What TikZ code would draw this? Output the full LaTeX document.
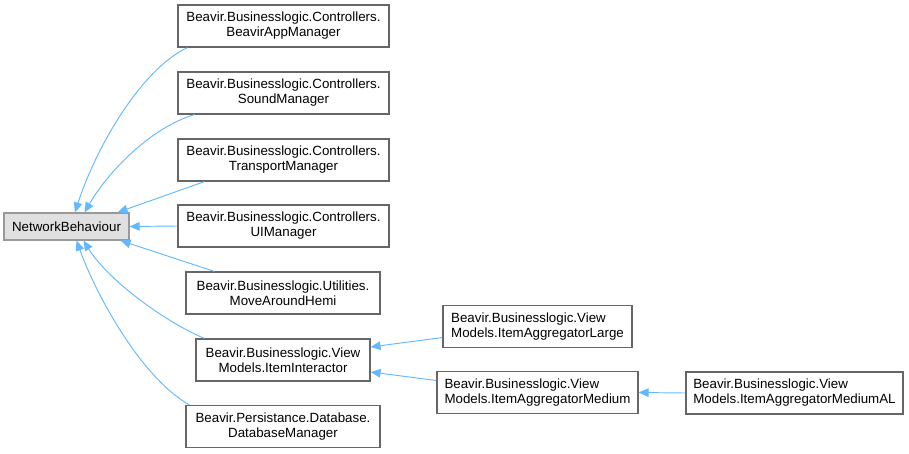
\documentclass[tikz,border=0pt]{standalone}
\usepackage{fontspec}
\setmainfont{Liberation Sans}
\usetikzlibrary{arrows.meta}
\usetikzlibrary{calc}

\definecolor{edgeblue}{RGB}{99,184,255}
\definecolor{boxgrey}{RGB}{102,102,102}
\definecolor{basefill}{RGB}{224,224,224}
\definecolor{basegrey}{RGB}{153,153,153}

\tikzset{
  classbox/.style={draw=boxgrey, line width=0.9pt, fill=white, inner sep=0pt,
    minimum height=31.5pt, font=\fontsize{10}{11.3}\selectfont},
  basebox/.style={classbox, draw=basegrey, fill=basefill, minimum height=20.25pt},
  inherit/.style={draw=edgeblue, line width=0.7pt,
    -{Triangle[length=7.5pt,width=6.5pt]}},
}

\begin{document}
\begin{tikzpicture}[x=0.75pt,y=0.75pt,yscale=-1,xscale=1]
\useasboundingbox (0,0) rectangle (909,453);

% Base class
\node [basebox, minimum width=93.75pt] (nb) at (66.5,226.5) {NetworkBehaviour};

% Derived classes
\node [classbox, minimum width=158.25pt, align=center] (app) at (283.5,26) {Beavir.Businesslogic.Controllers.\\BeavirAppManager};
\node [classbox, minimum width=158.25pt, align=center] (sound) at (283.5,93) {Beavir.Businesslogic.Controllers.\\SoundManager};
\node [classbox, minimum width=158.25pt, align=center] (transport) at (283.5,160) {Beavir.Businesslogic.Controllers.\\TransportManager};
\node [classbox, minimum width=158.25pt, align=center] (ui) at (283.5,226) {Beavir.Businesslogic.Controllers.\\UIManager};
\node [classbox, minimum width=145.5pt, align=center] (hemi) at (283,293) {Beavir.Businesslogic.Utilities.\\MoveAroundHemi};
\node [classbox, minimum width=130.5pt, align=center] (inter) at (283,360) {Beavir.Businesslogic.View\\Models.ItemInteractor};
\node [classbox, minimum width=145.5pt, align=center] (db) at (283,426.5) {Beavir.Persistance.Database.\\DatabaseManager};

% View models
\node [classbox, minimum width=141.75pt, align=left] (large) at (537.5,326.5) {Beavir.Businesslogic.View\\Models.ItemAggregatorLarge};
\node [classbox, minimum width=150.75pt, align=left] (medium) at (537.5,392.5) {Beavir.Businesslogic.View\\Models.ItemAggregatorMedium};
\node [classbox, minimum width=162.75pt, align=left] (mediumal) at (794.5,393) {Beavir.Businesslogic.View\\Models.ItemAggregatorMediumAL};

% Inheritance edges
\draw [inherit] ($(app.south west)+(10,0)$) .. controls (140,70) and (95,150) .. ($(nb.north)+(8.5,0)$);
\draw [inherit] ($(sound.south west)+(17,0)$) .. controls (150,128) and (108,172) .. ($(nb.north)+(18,0)$);
\draw [inherit] ($(transport.south west)+(27,0)$) -- ($(nb.north east)+(-12,0)$);
\draw [inherit] (ui.west) -- (nb.east);
\draw [inherit] ($(hemi.north west)+(29,0)$) -- ($(nb.south east)+(-9,0)$);
\draw [inherit] ($(inter.north west)+(9,0)$) .. controls (165,322) and (108,280) .. ($(nb.south)+(17,0)$);
\draw [inherit] ($(db.north west)+(4,0)$) .. controls (140,377) and (95,292) .. ($(nb.south)+(10,0)$);
\draw [inherit] ($(large.west)+(0,11)$) -- ($(inter.east)+(0,-13)$);
\draw [inherit] ($(medium.west)+(0,-12)$) -- ($(inter.east)+(0,12)$);
\draw [inherit] (mediumal.west) -- (medium.east);

\end{tikzpicture}
\end{document}
